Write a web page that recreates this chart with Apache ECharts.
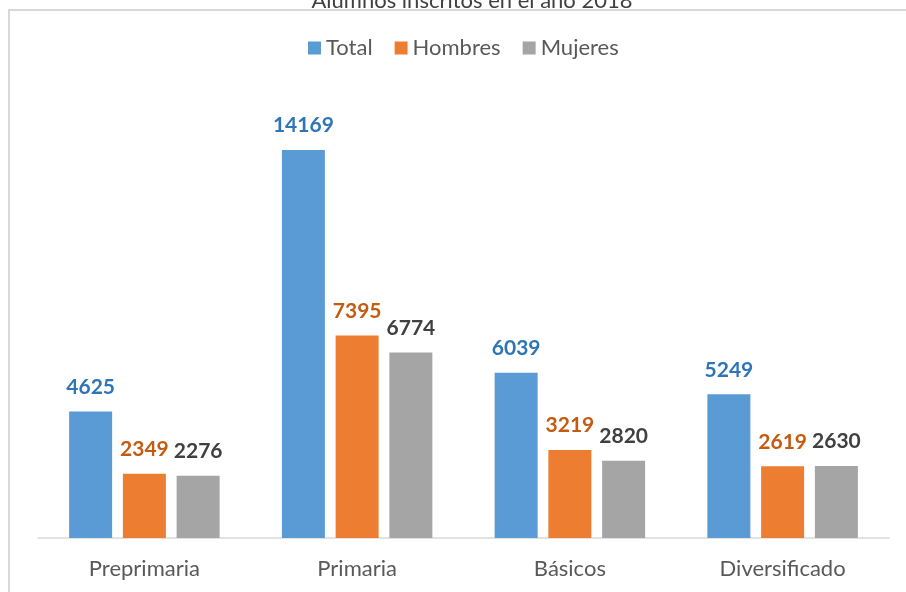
<!DOCTYPE html>
<html>
<head>
<meta charset="utf-8">
<script src="https://cdn.jsdelivr.net/npm/echarts@6/dist/echarts.min.js"></script>
<style>
  html, body { margin: 0; padding: 0; background: #fff; }
  #chart { width: 906px; height: 592px; }
</style>
</head>
<body>
<div id="chart"></div>
<script>
// datos del gráfico
const categories = ['Preprimaria', 'Primaria', 'Básicos', 'Diversificado'];
const seriesNames = ['Total', 'Hombres', 'Mujeres'];
const totalValues = [4625, 14169, 6039, 5249];
const hombresValues = [2349, 7395, 3219, 2619];
const mujeresValues = [2276, 6774, 2820, 2630];

const barColors = ['#5B9BD5', '#ED7D31', '#A5A5A5'];
const labelColors = ['#2E75B6', '#C55A11', '#404040'];
const font = 'Lato, "Open Sans", sans-serif';

const chart = echarts.init(document.getElementById('chart'));

function makeSeries(name, data, i) {
    return {
        name: name,
        type: 'bar',
        data: data,
        barWidth: 43,
        barGap: '25%',
        itemStyle: { color: barColors[i] },
        label: {
            show: true,
            position: 'top',
            distance: 14,
            color: labelColors[i],
            fontFamily: font,
            fontWeight: 'bold',
            fontSize: 21,
        },
        emphasis: { disabled: true },
    };
}

chart.setOption({
    animation: false,
    title: {
        text: 'Alumnos inscritos en el año 2018',
        left: 467,
        textAlign: 'center',
        top: -15,
        textStyle: { fontFamily: font, fontWeight: 'normal', fontSize: 22, color: '#404040' },
    },
    legend: {
        data: seriesNames,
        top: 32,
        left: 303,
        itemWidth: 13,
        itemHeight: 13,
        itemGap: 22,
        icon: 'rect',
        textStyle: { fontFamily: font, fontSize: 22, color: '#595959' },
    },
    grid: { left: 38, right: 17, top: 100, bottom: 54 },
    xAxis: {
        type: 'category',
        data: categories,
        axisLine: { lineStyle: { color: '#D9D9D9', width: 1.5 } },
        axisTick: { show: false },
        axisLabel: { fontFamily: font, fontSize: 22, color: '#595959', margin: 20 },
    },
    yAxis: {
        type: 'value',
        min: 0,
        max: 16000,
        show: false,
    },
    graphic: [
        {
            type: 'polyline',
            shape: { points: [[9, 600], [9, 10], [906, 10]] },
            style: { stroke: '#D9D9D9', lineWidth: 2, fill: null },
            silent: true,
        },
    ],
    series: [
        makeSeries('Total', totalValues, 0),
        makeSeries('Hombres', hombresValues, 1),
        makeSeries('Mujeres', mujeresValues, 2),
    ],
});
</script>
</body>
</html>
